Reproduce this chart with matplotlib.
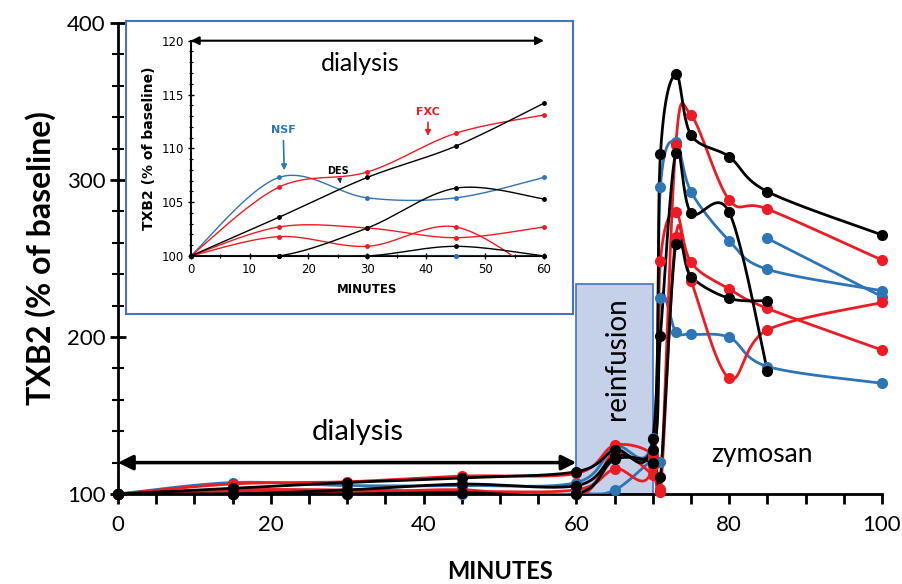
import numpy as np
import matplotlib.pyplot as plt
from matplotlib.patches import Rectangle
from matplotlib.ticker import MultipleLocator


# sampling times (min) shared by every series
MINUTES = [0, 15, 30, 45, 60, 65, 70, 71, 73, 75, 80, 85, 100]

# TXB2, % of baseline; None = no sample at that time
BLACK_A = [100, 103.6, 107.3, 110.2, 114.2, 128, 135, 316.6, 367.5, 328.7, 314.8, 292.6, 265]
BLACK_B = [100, 100, 102.6, 106.3, 105.3, 124, 128, 200.6, 317.4, 279.0, 279.4, 178.5, None]
BLACK_C = [100, 100, 100, 100.9, 100, 122, 120, 111, 259.0, 238.4, 224.6, 223.1, None]

RED_A = [100, 106.4, 107.8, 111.4, 113.1, 131, 125, 103, 322.0, 341.4, 287.3, 281.5, 249]
RED_B = [100, 102.7, 102.6, 101.7, 102.7, 116, 118, 248.6, 279.8, 247.6, 230.6, 218.2, 191.7]
RED_C = [100, 101.8, 100.9, 102.7, 98, 126, 112, 101, 263.9, 235.9, 173.7, 204.5, 222]

BLUE_A = [100, 107.3, 105.4, 105.4, 107.3, 130, 135.5, 295.7, 324.4, 292.6, 261.3, 243.1, 229.5]
BLUE_B = [100, 100, 100, 100, 100, 102.5, 122, 120.6, None, None, None, 262.8, 225.7]
BLUE_C = [100, 100, 100, 100, 100, 125, 128, 224.6, 203.4, 201.7, 199.8, 181.2, 170.5]

BLACK = "#000000"
RED = "#ed1c24"
BLUE = "#2e75b6"

SERIES = [
    (BLUE_A, BLUE), (BLUE_B, BLUE), (BLUE_C, BLUE),
    (RED_A, RED), (RED_B, RED), (RED_C, RED),
    (BLACK_A, BLACK), (BLACK_B, BLACK), (BLACK_C, BLACK),
]

INSET_END = 5  # inset only shows the dialysis hour (0-60 min)


def smooth(xs, ys, sx, sy, n=40):
    # Excel-like smoothed line: Bezier through the points, built in screen units
    pts = np.column_stack([np.asarray(xs, float) * sx, np.asarray(ys, float) * sy])
    if len(pts) < 2:
        return np.asarray(xs), np.asarray(ys)
    t = np.linspace(0, 1, n)[1:, None]
    out = [pts[:1]]
    for i in range(len(pts) - 1):
        p0 = pts[max(i - 1, 0)]
        p1 = pts[i]
        p2 = pts[i + 1]
        p3 = pts[min(i + 2, len(pts) - 1)]
        c1 = p1 + (p2 - p0) / 6
        c2 = p2 - (p3 - p1) / 6
        seg = (1 - t) ** 3 * p1 + 3 * (1 - t) ** 2 * t * c1 + 3 * (1 - t) * t ** 2 * c2 + t ** 3 * p2
        out.append(seg)
    c = np.vstack(out)
    return c[:, 0] / sx, c[:, 1] / sy


def runs(xs, ys):
    # split a series at missing samples
    cur_x, cur_y = [], []
    for x, y in zip(xs, ys):
        if y is None:
            if cur_x:
                yield cur_x, cur_y
            cur_x, cur_y = [], []
        else:
            cur_x.append(x)
            cur_y.append(y)
    if cur_x:
        yield cur_x, cur_y


def draw(ax, xs, ys, color, sx, sy, lw, ms, ymin):
    for rx, ry in runs(xs, ys):
        lx, ly = smooth(rx, ry, sx, sy)
        ax.plot(lx, ly, color=color, lw=lw, zorder=3)
        px = [x for x, y in zip(rx, ry) if y >= ymin]
        py = [y for y in ry if y >= ymin]
        ax.plot(px, py, "o", color=color, ms=ms, zorder=4, clip_on=False)


fig = plt.figure(figsize=(9.03, 5.84), dpi=100)

ax = fig.add_axes([118 / 903, 1 - 494 / 584, 764 / 903, 471 / 584])
ax.set_xlim(0, 100)
ax.set_ylim(100, 400)

ax.add_patch(Rectangle((60, 100), 10, 134, facecolor="#c5d0e9",
                       edgecolor="#4472c4", lw=1.2, zorder=1))

for vals, color in SERIES:
    draw(ax, MINUTES, vals, color, 7.64, 1.57, 2.0, 7, 100)

ax.annotate("", xy=(0, 120), xytext=(60, 120),
            arrowprops=dict(arrowstyle="<|-|>", lw=2.5, color="black",
                            mutation_scale=22, shrinkA=0, shrinkB=0),
            annotation_clip=False, zorder=5)
ax.text(31.4, 139.5, "dialysis", fontsize=21, family="Lato",
        ha="center", va="center")
ax.text(84.3, 125, "zymosan", fontsize=19, family="Lato",
        ha="center", va="center")
ax.text(65.3, 186, "reinfusion", fontsize=20, family="Lato",
        rotation=90, ha="center", va="center", zorder=2)

for side in ["top", "right"]:
    ax.spines[side].set_visible(False)
for side in ["left", "bottom"]:
    ax.spines[side].set_linewidth(2)

ax.xaxis.set_major_locator(MultipleLocator(20))
ax.xaxis.set_minor_locator(MultipleLocator(5))
ax.yaxis.set_major_locator(MultipleLocator(100))
ax.yaxis.set_minor_locator(MultipleLocator(20))
ax.tick_params(axis="x", which="both", direction="out", length=7, width=2)
ax.tick_params(axis="y", which="major", direction="inout", length=12, width=2)
ax.tick_params(axis="y", which="minor", direction="inout", length=9, width=1.5)
ax.tick_params(axis="x", which="major", labelsize=16, pad=8)
ax.tick_params(axis="y", which="major", labelsize=16, pad=3)
for lab in ax.get_xticklabels() + ax.get_yticklabels():
    lab.set_family("Lato")

ax.set_xlabel("MINUTES", fontsize=17, fontweight="bold", family="Lato", labelpad=18)
ax.set_ylabel("TXB2 (% of baseline)", fontsize=23, fontweight="bold", family="Lato",
              labelpad=8)

# inset frame, then the zoomed dialysis hour inside it
frame = fig.add_axes([126 / 903, 1 - 314 / 584, 447 / 903, 293 / 584])
frame.set_xticks([])
frame.set_yticks([])
for s in frame.spines.values():
    s.set_edgecolor("#4472c4")
    s.set_linewidth(1.5)

ins = fig.add_axes([190.7 / 903, 1 - 256 / 584, 353.3 / 903, 215.3 / 584])
ins.set_xlim(0, 60)
ins.set_ylim(100, 120)
ins.patch.set_alpha(0)

for vals, color in SERIES:
    draw(ins, MINUTES[:INSET_END], vals[:INSET_END], color, 5.89, 10.77, 1.0, 2.5, 100)

ins.annotate("", xy=(0, 120), xytext=(60, 120),
             arrowprops=dict(arrowstyle="<|-|>", lw=1.5, color="black",
                             mutation_scale=12, shrinkA=0, shrinkB=0),
             annotation_clip=False)
ins.text(28.8, 117.9, "dialysis", fontsize=18, family="Lato", ha="center", va="center")

ins.annotate("NSF", xy=(15.9, 107.7), xytext=(15.7, 111.7), color=BLUE,
             fontsize=8, fontweight="bold", ha="center", va="center",
             arrowprops=dict(arrowstyle="-|>", color=BLUE, lw=1.2, mutation_scale=8))
ins.annotate("DES", xy=(25.5, 106.5), xytext=(25.1, 107.9), color="black",
             fontsize=7, fontweight="bold", ha="center", va="center",
             arrowprops=dict(arrowstyle="-|>", color="#1f2a60", lw=1.0, mutation_scale=6))
ins.annotate("FXC", xy=(40.3, 110.9), xytext=(40.3, 113.4), color=RED,
             fontsize=8, fontweight="bold", ha="center", va="center",
             arrowprops=dict(arrowstyle="-|>", color=RED, lw=1.2, mutation_scale=8))

for side in ["top", "right"]:
    ins.spines[side].set_visible(False)
for side in ["left", "bottom"]:
    ins.spines[side].set_linewidth(1.5)
ins.xaxis.set_major_locator(MultipleLocator(10))
ins.xaxis.set_minor_locator(MultipleLocator(5))
ins.yaxis.set_major_locator(MultipleLocator(5))
ins.yaxis.set_minor_locator(MultipleLocator(1))
ins.tick_params(which="major", direction="inout", length=4, width=1, labelsize=8.5, pad=3)
ins.tick_params(which="minor", direction="inout", length=2.5, width=0.8)
ins.set_xlabel("MINUTES", fontsize=8.5, fontweight="bold", labelpad=5)
ins.set_ylabel("TXB2 (% of baseline)", fontsize=10, fontweight="bold", labelpad=4)

fig.savefig("out.png", dpi=100)
